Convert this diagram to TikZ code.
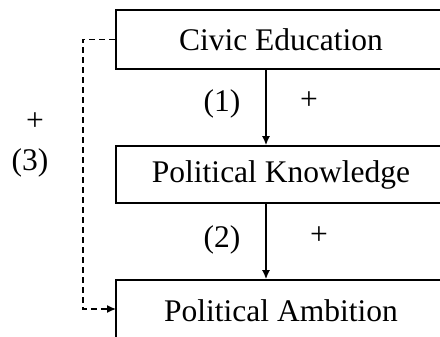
\documentclass[tikz,border=0pt]{standalone}
\usepackage{fontspec}
\setmainfont{Liberation Serif}
\usetikzlibrary{arrows.meta}
\begin{document}
\begin{tikzpicture}[x=1pt,y=-1pt,
  box/.style={draw,line width=1.6pt,minimum width=330pt,inner sep=0pt,font=\fontsize{31.5}{36}\selectfont},
  lbl/.style={font=\fontsize{31.5}{36}\selectfont,inner sep=0pt},
  conn/.style={line width=1.6pt,-{Latex[length=9pt,width=8pt]}},
  dconn/.style={line width=1.3pt,dash pattern=on 6pt off 4pt,-{Latex[length=9pt,width=8pt]}}]
\useasboundingbox (0,0) rectangle (440,337);
\clip (0,0) rectangle (440,337);
\node[box,minimum height=59pt] (ce) at (281,39.5) {Civic Education};
\node[box,minimum height=57pt] (pk) at (281,174.5) {Political Knowledge};
\node[box,minimum height=62pt] (pa) at (281,311) {Political Ambition};
\coordinate (ax) at (266,0);
\coordinate (dl) at (83,0);
\draw[conn] (ce.south -| ax) -- (pk.north -| ax);
\draw[conn] (pk.south -| ax) -- (pa.north -| ax);
\draw[dconn] (ce.west) -- (ce.west -| dl) |- (116,309);
\node[lbl] (l1) at (222,104) {(1)};
\node[lbl] (p1) at (309,101) {+};
\node[lbl] (l2) at (222,240) {(2)};
\node[lbl] (p2) at (319,236) {+};
\node[lbl] (p3) at (35,122) {+};
\node[lbl] (l3) at (30,163) {(3)};
\end{tikzpicture}
\end{document}
